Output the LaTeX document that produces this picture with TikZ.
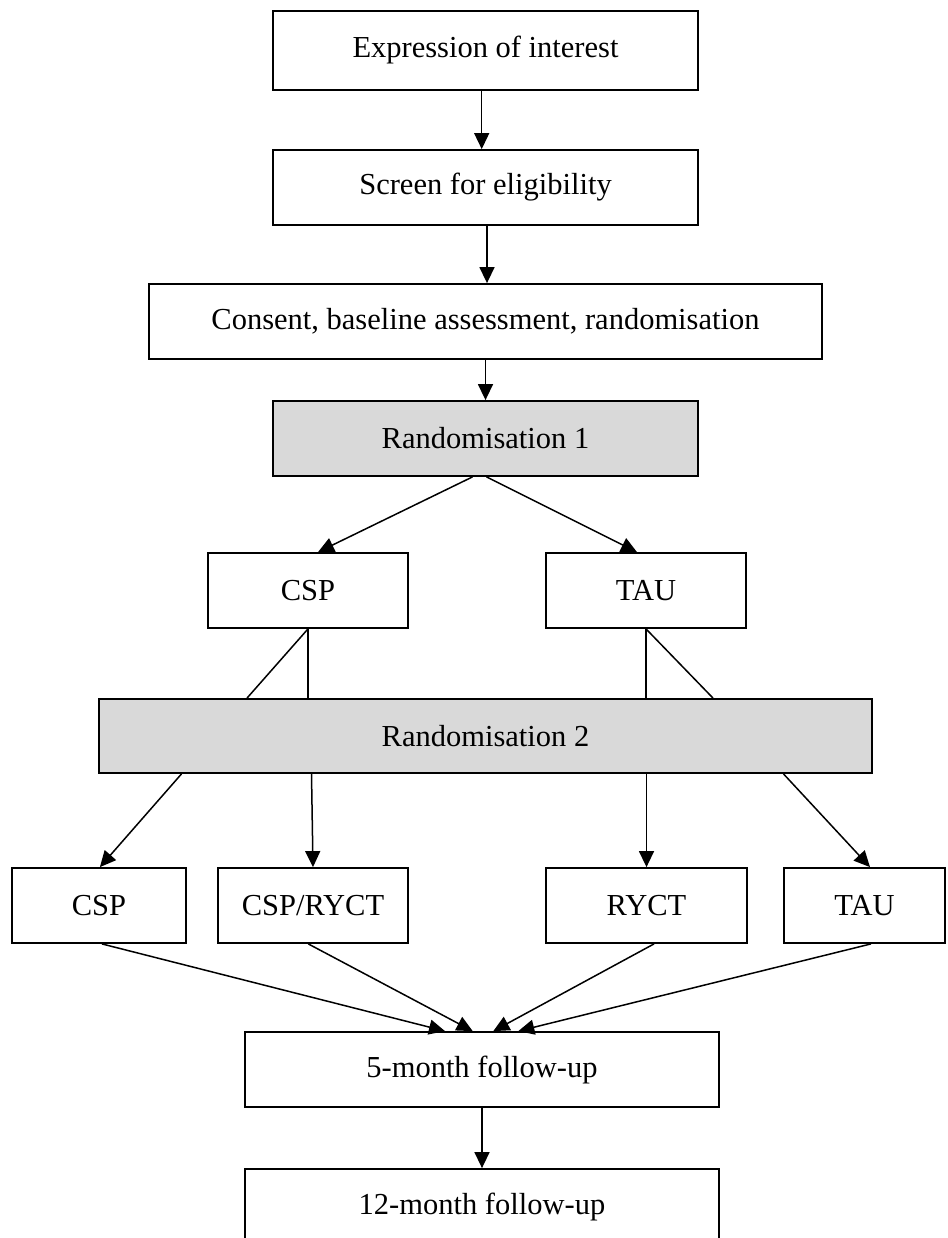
\documentclass[tikz,border=0pt]{standalone}
\usepackage{fontspec}
\setmainfont{Liberation Serif}
\usetikzlibrary{arrows.meta}
\tikzset{
  box/.style={draw=black, line width=1.8pt, fill=white, inner sep=0pt, align=center,
    font=\fontsize{30.5}{34}\selectfont},
  graybox/.style={box, fill=black!15},
  conn/.style={line width=1.5pt, draw=black},
  arr/.style={conn, -{Triangle[length=16pt,width=15pt]}}
}
\begin{document}
\begin{tikzpicture}[x=1pt,y=-1pt]
\clip (0,0) rectangle (947,1238);
\fill[white] (0,0) rectangle (947,1238);
\node[box, minimum width=425pt, minimum height=79pt] (n1) at (485.5,50.5) {Expression of interest};
\node[box, minimum width=425pt, minimum height=75pt] (n2) at (485.5,187.5) {Screen for eligibility};
\node[box, minimum width=673pt, minimum height=75pt] (n3) at (485.5,321.5) {Consent, baseline assessment, randomisation};
\node[graybox, minimum width=425pt, minimum height=75pt] (r1) at (485.5,438.5) {Randomisation 1};
\node[box, minimum width=200pt, minimum height=75pt] (csp1) at (308,590.5) {CSP};
\node[box, minimum width=200pt, minimum height=75pt] (tau1) at (646,590.5) {TAU};
\node[graybox, minimum width=773pt, minimum height=74pt] (r2) at (485.5,736) {Randomisation 2};
\node[box, minimum width=174pt, minimum height=75pt] (b1) at (98.9,905.5) {CSP};
\node[box, minimum width=190pt, minimum height=75pt] (b2) at (313,905.5) {CSP/RYCT};
\node[box, minimum width=201pt, minimum height=75pt] (b3) at (646.5,905.5) {RYCT};
\node[box, minimum width=161pt, minimum height=75pt] (b4) at (864.5,905.5) {TAU};
\node[box, minimum width=474pt, minimum height=75pt] (f5) at (482,1069.5) {5-month follow-up};
\node[box, minimum width=474pt, minimum height=75pt] (f12) at (482,1206.5) {12-month follow-up};

\draw[arr] ([xshift=-3.8pt]n1.south) -- ([xshift=-3.8pt]n2.north);
\draw[arr] ([xshift=1.5pt]n2.south) -- ([xshift=1.5pt]n3.north);
\draw[arr] (n3.south) -- (r1.north);
\draw[arr] ([xshift=-13pt]r1.south) -- ([xshift=10pt]csp1.north);
\draw[arr] ([xshift=1pt]r1.south) -- ([xshift=-9pt]tau1.north);

\draw[conn] (csp1.south) -- (csp1.south |- r2.north);
\draw[conn] (csp1.south) -- ([xshift=-61pt]csp1.south |- r2.north);
\draw[conn] (tau1.south) -- (tau1.south |- r2.north);
\draw[conn] (tau1.south) -- ([xshift=67pt]tau1.south |- r2.north);

\draw[arr] ([xshift=-304pt]r2.south) -- ([xshift=1pt]b1.north);
\draw[arr] ([xshift=-174pt]r2.south) -- (b2.north);
\draw[arr] (b3.north |- r2.south) -- (b3.north);
\draw[arr] ([xshift=298pt]r2.south) -- ([xshift=5.5pt]b4.north);

\draw[arr] ([xshift=3pt]b1.south) -- ([xshift=-37pt]f5.north);
\draw[arr] ([xshift=-4.7pt]b2.south) -- ([xshift=-9.3pt]f5.north);
\draw[arr] ([xshift=7.5pt]b3.south) -- ([xshift=11.3pt]f5.north);
\draw[arr] ([xshift=6.5pt]b4.south) -- ([xshift=36.3pt]f5.north);
\draw[arr] (f5.south) -- (f12.north);
\end{tikzpicture}
\end{document}
